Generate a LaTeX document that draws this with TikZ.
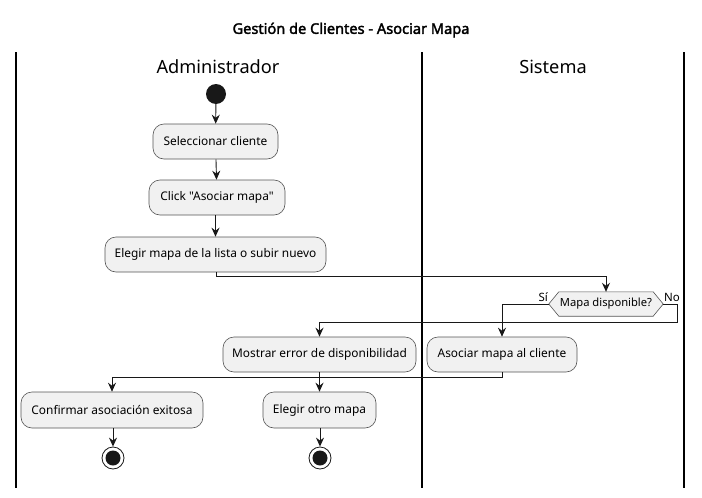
\documentclass[tikz,border=0pt]{standalone}
\usepackage{fontspec}
\setmainfont{Noto Sans}[Ligatures=TeXOff]
\newfontfamily\titlefont{Noto Sans}[FakeBold=2.2]
\usetikzlibrary{arrows.meta}
\definecolor{boxfill}{HTML}{F1F1F1}
\definecolor{boxline}{HTML}{555555}
\definecolor{ink}{HTML}{181818}
\begin{document}
\begin{tikzpicture}[x=1pt,y=-1pt,
  act/.style={draw=boxline, fill=boxfill, rounded corners=11pt, line width=0.6pt,
    minimum height=35pt, inner sep=0pt, font=\fontsize{11.9}{14}\selectfont},
  flow/.style={draw=ink, line width=0.9pt, -{Stealth[length=9pt,width=8pt,inset=3pt]}},
  lane/.style={draw=black, line width=1.4pt},
  lanetitle/.style={font=\fontsize{18.2}{21}\selectfont},
  guard/.style={font=\fontsize{11.5}{13}\selectfont, inner sep=0pt}]
\useasboundingbox (0,0) rectangle (702,498);
\fill[white] (0,0) rectangle (702,498);
% title
\node[font=\titlefont\fontsize{14.6}{17}\selectfont] (title) at (351,30) {Gestión de Clientes - Asociar Mapa};
% lanes
\coordinate (l1t) at (16,52); \coordinate (l1b) at (16,488);
\coordinate (l2t) at (422,52); \coordinate (l2b) at (422,488);
\coordinate (l3t) at (684,52); \coordinate (l3b) at (684,488);
\draw[lane] (l1t) -- (l1b);
\draw[lane] (l2t) -- (l2b);
\draw[lane] (l3t) -- (l3b);
\node[lanetitle] (ladmin) at (218,67) {Administrador};
\node[lanetitle] (lsis) at (553,67) {Sistema};
% nodes
\node[circle, fill=ink, minimum size=20pt, inner sep=0pt] (start) at (216,94) {};
\node[act, minimum width=125pt] (s1) at (215.5,141.5) {Seleccionar cliente};
\node[act, minimum width=136pt] (s2) at (217,197.5) {Click "Asociar mapa"};
\node[act, minimum width=221pt] (s3) at (215.5,254.5) {Elegir mapa de la lista o subir nuevo};
\node[inner sep=0pt, minimum width=114pt, minimum height=24pt] (dec) at (606,304) {};
\draw[draw=boxline, fill=boxfill, line width=0.6pt] (dec.west) -- ([xshift=10pt]dec.north west) -- ([xshift=-10pt]dec.north east) -- (dec.east) -- ([xshift=-10pt]dec.south east) -- ([xshift=10pt]dec.south west) -- cycle;
\node[inner sep=0pt, font=\fontsize{11.2}{13}\selectfont] (dectext) at (dec) {Mapa disponible?};
\node[guard, anchor=east] (si) at (548,297) {Sí};
\node[guard, anchor=west] (no) at (664,297) {No};
\node[act, minimum width=150pt] (s4) at (502,354.5) {Asociar mapa al cliente};
\node[act, minimum width=193pt] (s5) at (319.5,354.5) {Mostrar error de disponibilidad};
\node[act, minimum width=182pt, minimum height=36pt] (s6) at (112,410) {Confirmar asociación exitosa};
\node[act, minimum width=113pt, minimum height=36pt] (s7) at (319.5,410) {Elegir otro mapa};
\node[circle, draw=ink, fill=white, line width=0.8pt, minimum size=22pt, inner sep=0pt] (e1) at (113,458) {};
\fill[ink] (e1) circle (7.5pt);
\node[circle, draw=ink, fill=white, line width=0.8pt, minimum size=22pt, inner sep=0pt] (e2) at (320,458) {};
\fill[ink] (e2) circle (7.5pt);
% connectors
\coordinate (c1) at (216,276);
\coordinate (c2) at (677,304);
\coordinate (c3) at (677,322);
\coordinate (c4) at (502,377);
\draw[flow] (start) -- (s1);
\draw[flow] (s1) -- (s2);
\draw[flow] (s2.south -| s3.north) -- (s3);
\draw[flow] (s3.south -| c1) -- (c1) -| (dec.north);
\draw[flow] (dec.west) -| (s4.north);
\draw[flow] (dec.east) -- (c2) -- (c3) -| (s5.north);
\draw[flow] (s4.south) -- (c4) -| (s6.north);
\draw[flow] (s5.south) -- (s7.north);
\draw[flow] (s6.south -| e1) -- (e1);
\draw[flow] (s7.south -| e2) -- (e2);
\end{tikzpicture}
\end{document}
